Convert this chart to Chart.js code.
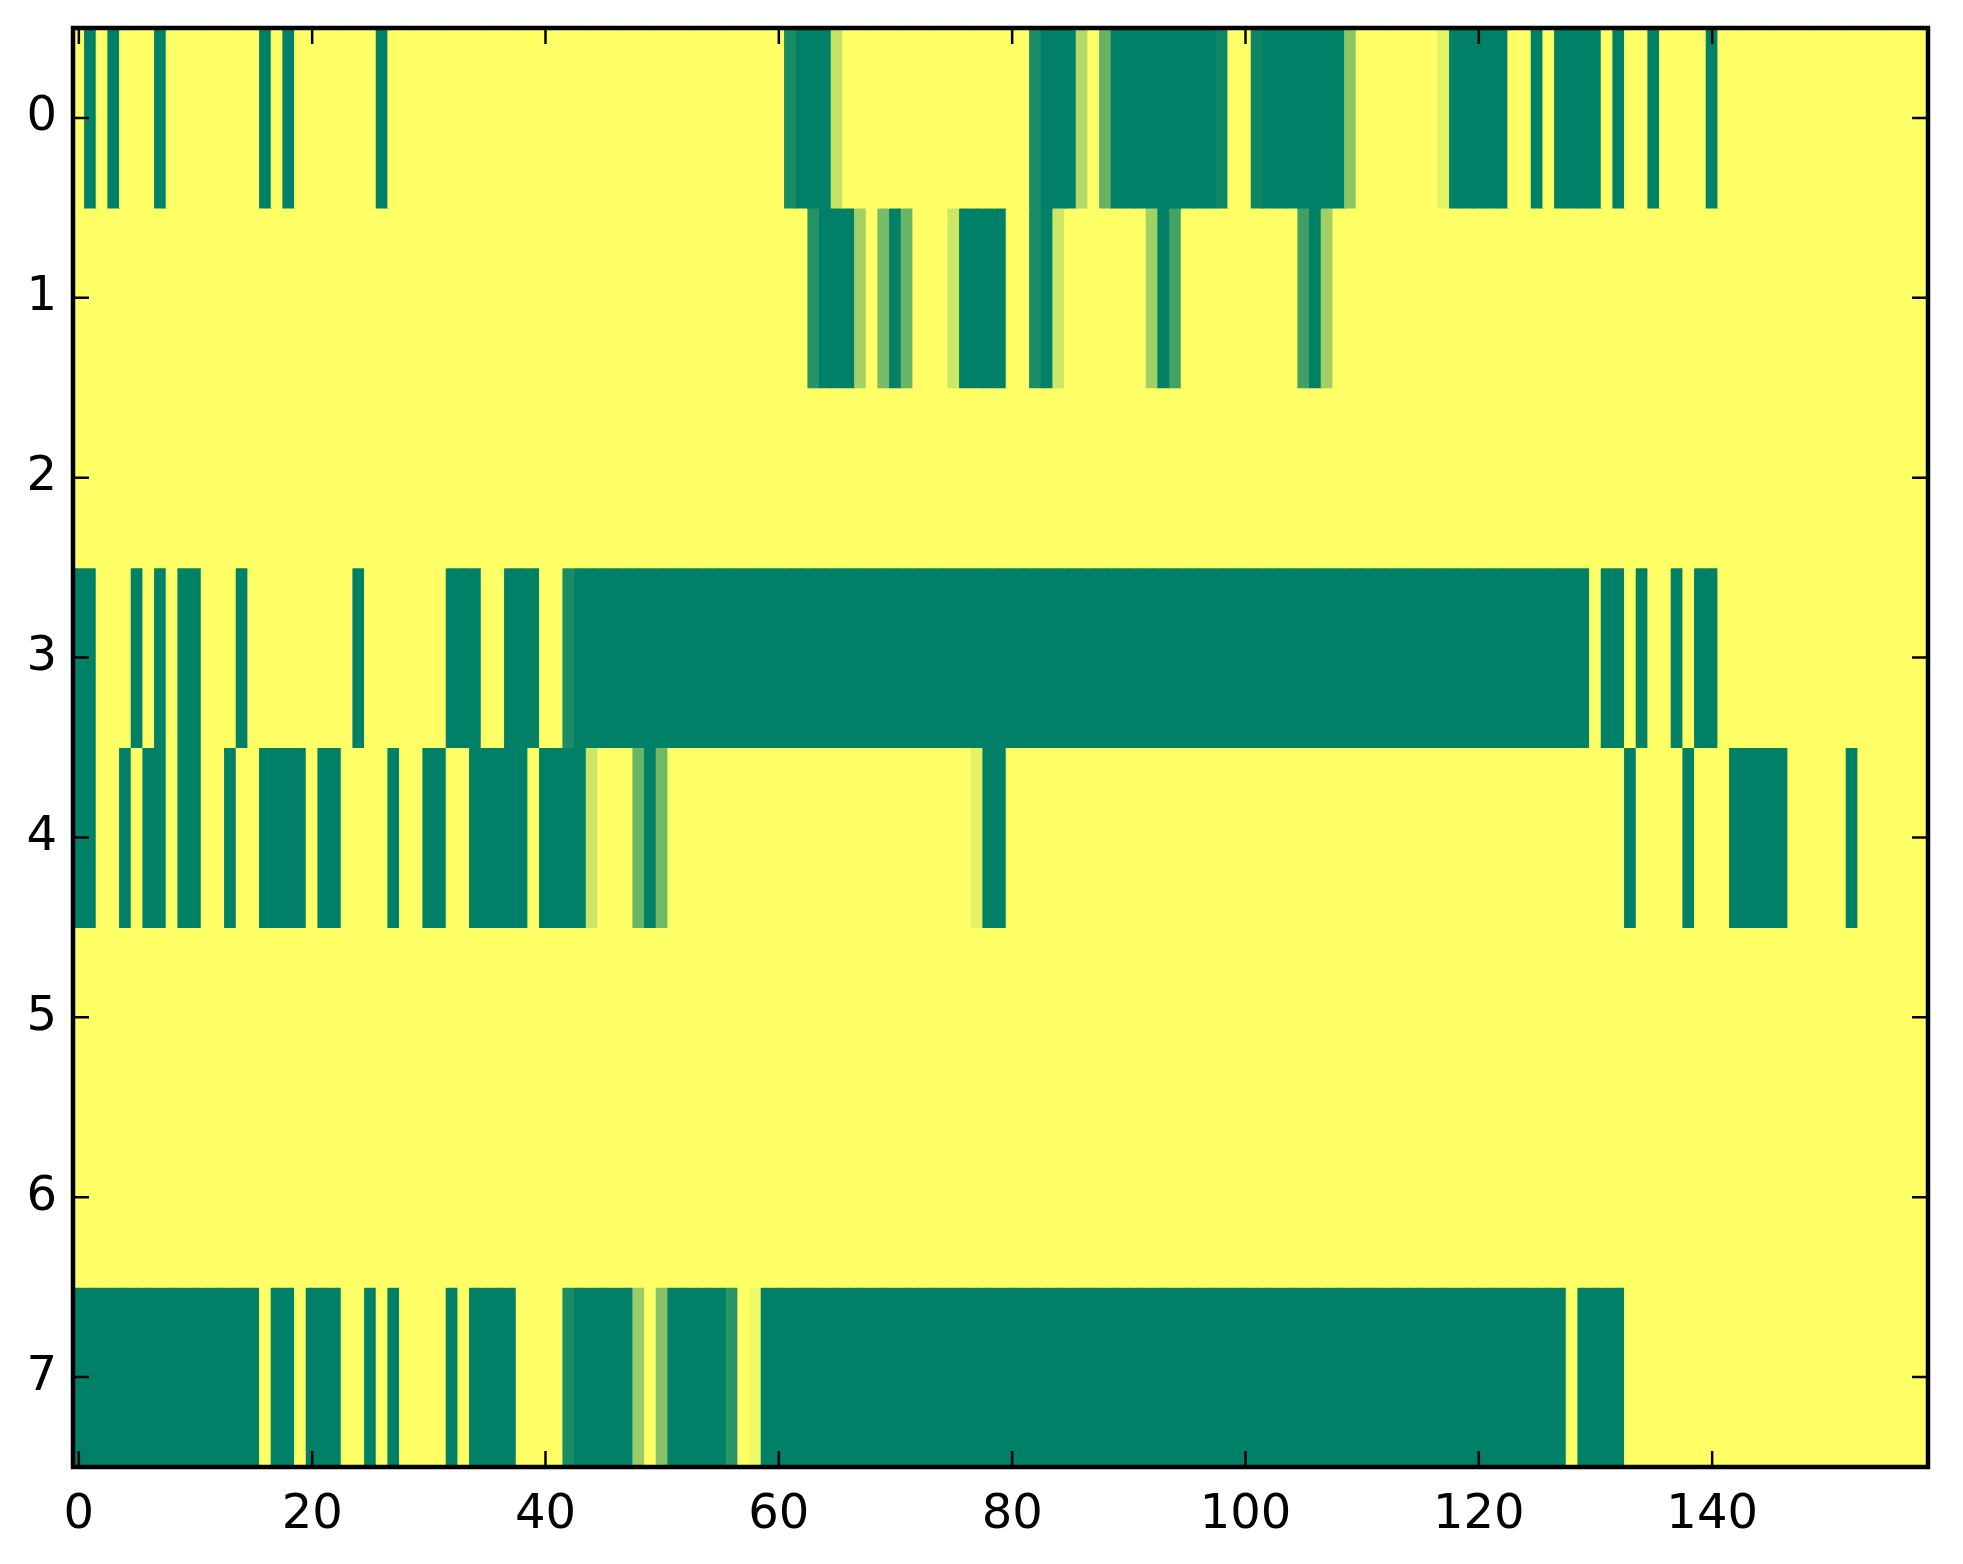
<!DOCTYPE html>
<html>
<head>
<meta charset="utf-8">
<style>
  html, body { margin: 0; padding: 0; background: #fff; }
  canvas { display: block; }
</style>
<script src="https://cdn.jsdelivr.net/npm/chart.js@4.4.1/dist/chart.umd.min.js"></script>
</head>
<body>
<canvas id="heat" width="1963" height="1564"></canvas>
<script>
// rows of the image, left to right, columns 0..158 (0 = green, 1 = yellow)
const rowLabels = ["0", "1", "2", "3", "4", "5", "6", "7"];
const xTickValues = [0, 20, 40, 60, 80, 100, 120, 140];

const row0 = [
  1,0,1,0,1,1,1,0,1,1,1,1,1,1,1,1,0,1,0,1,
  1,1,1,1,1,1,0,1,1,1,1,1,1,1,1,1,1,1,1,1,
  1,1,1,1,1,1,1,1,1,1,1,1,1,1,1,1,1,1,1,1,
  1,0.1,0,0,0,0.77,1,1,1,1,1,1,1,1,1,1,1,1,1,1,
  1,1,0.1,0,0,0,0.7,1,0.4,0,0,0,0,0,0,0,0,0,0.05,1,
  1,0.05,0,0,0,0,0,0,0,0.55,1,1,1,1,1,1,1,0.9,0,0,
  0,0,0,1,1,0,1,0,0,0,0,1,0,1,1,0,1,1,1,1,
  0,1,1,1,1,1,1,1,1,1,1,1,1,1,1,1,1,1,1
];
const row1 = [
  1,1,1,1,1,1,1,1,1,1,1,1,1,1,1,1,1,1,1,1,
  1,1,1,1,1,1,1,1,1,1,1,1,1,1,1,1,1,1,1,1,
  1,1,1,1,1,1,1,1,1,1,1,1,1,1,1,1,1,1,1,1,
  1,1,1,0.15,0,0,0,0.63,1,0.47,0,0.42,1,1,1,0.8,0,0,0,0,
  1,1,0.1,0,0.8,1,1,1,1,1,1,1,0.63,0,0.26,1,1,1,1,1,
  1,1,1,1,1,0.25,0,0.63,1,1,1,1,1,1,1,1,1,1,1,1,
  1,1,1,1,1,1,1,1,1,1,1,1,1,1,1,1,1,1,1,1,
  1,1,1,1,1,1,1,1,1,1,1,1,1,1,1,1,1,1,1
];
const row2 = [
  1,1,1,1,1,1,1,1,1,1,1,1,1,1,1,1,1,1,1,1,
  1,1,1,1,1,1,1,1,1,1,1,1,1,1,1,1,1,1,1,1,
  1,1,1,1,1,1,1,1,1,1,1,1,1,1,1,1,1,1,1,1,
  1,1,1,1,1,1,1,1,1,1,1,1,1,1,1,1,1,1,1,1,
  1,1,1,1,1,1,1,1,1,1,1,1,1,1,1,1,1,1,1,1,
  1,1,1,1,1,1,1,1,1,1,1,1,1,1,1,1,1,1,1,1,
  1,1,1,1,1,1,1,1,1,1,1,1,1,1,1,1,1,1,1,1,
  1,1,1,1,1,1,1,1,1,1,1,1,1,1,1,1,1,1,1
];
const row3 = [
  0,0,1,1,1,0,1,0,1,0,0,1,1,1,0,1,1,1,1,1,
  1,1,1,1,0,1,1,1,1,1,1,1,0,0,0,1,1,0,0,0,
  1,1,0.1,0,0,0,0,0,0,0,0,0,0,0,0,0,0,0,0,0,
  0,0,0,0,0,0,0,0,0,0,0,0,0,0,0,0,0,0,0,0,
  0,0,0,0,0,0,0,0,0,0,0,0,0,0,0,0,0,0,0,0,
  0,0,0,0,0,0,0,0,0,0,0,0,0,0,0,0,0,0,0,0,
  0,0,0,0,0,0,0,0,0,0,1,0,0,1,0,1,1,0,1,0,
  0,1,1,1,1,1,1,1,1,1,1,1,1,1,1,1,1,1,1
];
const row4 = [
  0,0,1,1,0,1,0,0,1,0,0,1,1,0,1,1,0,0,0,0,
  1,0,0,1,1,1,1,0,1,1,0,0,1,1,0,0,0,0,0,1,
  0,0,0,0,0.8,1,1,1,0.42,0,0.44,1,1,1,1,1,1,1,1,1,
  1,1,1,1,1,1,1,1,1,1,1,1,1,1,1,1,1,0.9,0,0,
  1,1,1,1,1,1,1,1,1,1,1,1,1,1,1,1,1,1,1,1,
  1,1,1,1,1,1,1,1,1,1,1,1,1,1,1,1,1,1,1,1,
  1,1,1,1,1,1,1,1,1,1,1,1,1,0,1,1,1,1,0,1,
  1,1,0,0,0,0,0,1,1,1,1,1,0,1,1,1,1,1,1
];
const row5 = [
  1,1,1,1,1,1,1,1,1,1,1,1,1,1,1,1,1,1,1,1,
  1,1,1,1,1,1,1,1,1,1,1,1,1,1,1,1,1,1,1,1,
  1,1,1,1,1,1,1,1,1,1,1,1,1,1,1,1,1,1,1,1,
  1,1,1,1,1,1,1,1,1,1,1,1,1,1,1,1,1,1,1,1,
  1,1,1,1,1,1,1,1,1,1,1,1,1,1,1,1,1,1,1,1,
  1,1,1,1,1,1,1,1,1,1,1,1,1,1,1,1,1,1,1,1,
  1,1,1,1,1,1,1,1,1,1,1,1,1,1,1,1,1,1,1,1,
  1,1,1,1,1,1,1,1,1,1,1,1,1,1,1,1,1,1,1
];
const row6 = [
  1,1,1,1,1,1,1,1,1,1,1,1,1,1,1,1,1,1,1,1,
  1,1,1,1,1,1,1,1,1,1,1,1,1,1,1,1,1,1,1,1,
  1,1,1,1,1,1,1,1,1,1,1,1,1,1,1,1,1,1,1,1,
  1,1,1,1,1,1,1,1,1,1,1,1,1,1,1,1,1,1,1,1,
  1,1,1,1,1,1,1,1,1,1,1,1,1,1,1,1,1,1,1,1,
  1,1,1,1,1,1,1,1,1,1,1,1,1,1,1,1,1,1,1,1,
  1,1,1,1,1,1,1,1,1,1,1,1,1,1,1,1,1,1,1,1,
  1,1,1,1,1,1,1,1,1,1,1,1,1,1,1,1,1,1,1
];
const row7 = [
  0,0,0,0,0,0,0,0,0,0,0,0,0,0,0,0,1,0,0,1,
  0,0,0,1,1,0,1,0,1,1,1,1,0,1,0,0,0,0,1,1,
  1,1,0.1,0,0,0,0,0,0.6,1,0.53,0,0,0,0,0,0.17,1,0.95,0,
  0,0,0,0,0,0,0,0,0,0,0,0,0,0,0,0,0,0,0,0,
  0,0,0,0,0,0,0,0,0,0,0,0,0,0,0,0,0,0,0,0,
  0,0,0,0,0,0,0,0,0,0,0,0,0,0,0,0,0,0,0,0,
  0,0,0,0,0,0,0,0,1,0,0,0,0,1,1,1,1,1,1,1,
  1,1,1,1,1,1,1,1,1,1,1,1,1,1,1,1,1,1,1
];
const rows = [row0, row1, row2, row3, row4, row5, row6, row7];

// matplotlib "summer" colormap
function summer(v) {
  const r = Math.round(255 * v);
  const g = Math.round(255 * (0.5 + 0.5 * v));
  return `rgb(${r},${g},102)`;
}

const nCols = row0.length;
const fontSpec = { family: "DejaVu Sans", size: 48 };

// ticks pointing inwards on all four sides, plus the frame
const frame = {
  id: "frame",
  afterDraw(chart) {
    const { ctx, chartArea: a, scales } = chart;
    const len = 16;
    ctx.save();
    ctx.strokeStyle = "#000";
    ctx.lineWidth = 2.5;
    ctx.beginPath();
    xTickValues.forEach(v => {
      const px = scales.x.getPixelForValue(v);
      ctx.moveTo(px, a.bottom); ctx.lineTo(px, a.bottom - len);
      ctx.moveTo(px, a.top); ctx.lineTo(px, a.top + len);
    });
    rowLabels.forEach((lab, i) => {
      const py = scales.y.getPixelForValue(i);
      ctx.moveTo(a.left, py); ctx.lineTo(a.left + len, py);
      ctx.moveTo(a.right, py); ctx.lineTo(a.right - len, py);
    });
    ctx.stroke();
    ctx.lineWidth = 4.5;
    ctx.strokeRect(a.left, a.top, a.right - a.left, a.bottom - a.top);
    ctx.restore();
  }
};

new Chart(document.getElementById("heat"), {
  type: "bar",
  data: {
    labels: rowLabels,
    datasets: rows.map((vals, r) => ({
      data: vals.map((v, c) => ({ x: [c - 0.5, c + 0.5], y: rowLabels[r] })),
      backgroundColor: vals.map(summer),
      borderWidth: 0,
      barPercentage: 1,
      categoryPercentage: 1,
      grouped: false,
      inflateAmount: 0.6
    }))
  },
  options: {
    indexAxis: "y",
    responsive: false,
    devicePixelRatio: 1,
    animation: false,
    layout: { padding: { top: 28, right: 35, left: 0, bottom: 0 } },
    plugins: { legend: { display: false }, tooltip: { enabled: false } },
    scales: {
      x: {
        type: "linear",
        position: "bottom",
        min: -0.5,
        max: nCols - 0.5,
        grid: { display: false, drawTicks: false },
        border: { display: false },
        ticks: { font: fontSpec, color: "#000", padding: 20, autoSkip: false, maxRotation: 0 },
        afterBuildTicks: s => { s.ticks = xTickValues.map(v => ({ value: v })); },
        afterFit: s => { s.height = 97; s.paddingLeft = 0; s.paddingRight = 0; }
      },
      y: {
        type: "category",
        labels: rowLabels,
        grid: { display: false, drawTicks: false },
        border: { display: false },
        ticks: { font: fontSpec, color: "#000", padding: 16 },
        afterFit: s => { s.width = 73; s.paddingTop = 0; s.paddingBottom = 0; }
      }
    }
  },
  plugins: [frame]
});
</script>
</body>
</html>
